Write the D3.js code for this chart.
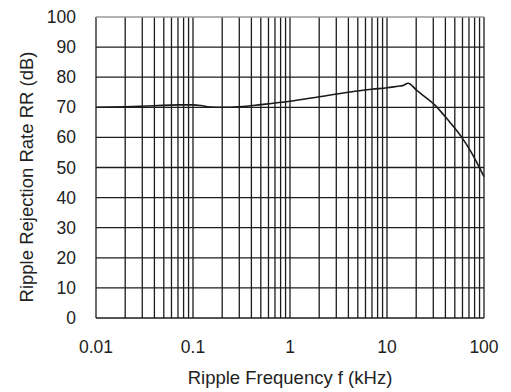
<!DOCTYPE html>
<html>
<head>
<meta charset="utf-8">
<script src="https://cdn.jsdelivr.net/npm/d3@7"></script>
<style>
  html, body { margin: 0; padding: 0; background: #fff; }
  svg { display: block; font-family: "Liberation Sans", Arial, sans-serif; }
</style>
</head>
<body>
<script>
// curve
const freqKHz = [0.01, 0.02, 0.04, 0.07, 0.1, 0.12, 0.15, 0.2, 0.3, 0.5, 1, 2, 4, 7, 10, 13, 14.5, 16.5, 20, 22, 31, 44, 59, 72, 100];
const rrDb    = [70, 70.2, 70.5, 70.8, 70.8, 70.6, 70.1, 70, 70.2, 70.9, 72, 73.5, 75, 76, 76.5, 77, 77.2, 78, 75.8, 74.7, 70.8, 65.2, 60, 55.7, 47];

const xTicks = [0.01, 0.1, 1, 10, 100];
const xTickLabels = ["0.01", "0.1", "1", "10", "100"];
const yTicks = [0, 10, 20, 30, 40, 50, 60, 70, 80, 90, 100];

const width = 511, height = 392;
const margin = { top: 17, right: 27, bottom: 74, left: 96 };

const x = d3.scaleLog().domain([0.01, 100]).range([margin.left, width - margin.right]);
const y = d3.scaleLinear().domain([0, 100]).range([height - margin.bottom, margin.top]);

const svg = d3.select("body").append("svg")
    .attr("width", width)
    .attr("height", height);

// log grid: 1..9 in every decade
const minor = [];
for (let d = 0.01; d < 100; d *= 10) {
    for (let k = 1; k <= 9; k++) minor.push(+(d * k).toPrecision(3));
}
minor.push(100);

const grid = svg.append("g")
    .attr("stroke", "#1c1c1c")
    .attr("stroke-width", 1.3);

grid.selectAll("line.v")
    .data(minor)
    .join("line")
    .attr("class", "v")
    .attr("x1", d => x(d)).attr("x2", d => x(d))
    .attr("y1", y(100)).attr("y2", y(0));

grid.selectAll("line.h")
    .data(yTicks)
    .join("line")
    .attr("class", "h")
    .attr("x1", x(0.01)).attr("x2", x(100))
    .attr("y1", d => y(d)).attr("y2", d => y(d))
    .attr("stroke", d => d === 100 ? "#999" : null);

// curve
const line = d3.line()
    .x((d, i) => x(freqKHz[i]))
    .y(d => y(d))
    .curve(d3.curveMonotoneX);

svg.append("path")
    .datum(rrDb)
    .attr("fill", "none")
    .attr("stroke", "#1a1a1a")
    .attr("stroke-width", 1.6)
    .attr("d", line);

// axes (labels only)
svg.append("g")
    .attr("font-size", 17.5)
    .attr("fill", "#222")
    .attr("text-anchor", "end")
    .selectAll("text")
    .data(yTicks)
    .join("text")
    .attr("x", 76)
    .attr("y", d => y(d) + 6)
    .text(d => d);

svg.append("g")
    .attr("font-size", 17.5)
    .attr("fill", "#222")
    .attr("text-anchor", "middle")
    .selectAll("text")
    .data(xTicks)
    .join("text")
    .attr("x", d => x(d))
    .attr("y", 353)
    .text((d, i) => xTickLabels[i]);

svg.append("text")
    .attr("x", (x(0.01) + x(100)) / 2)
    .attr("y", 384)
    .attr("text-anchor", "middle")
    .attr("font-size", 18.5)
    .attr("fill", "#222")
    .text("Ripple Frequency f (kHz)");

svg.append("text")
    .attr("transform", "translate(33,177) rotate(-90)")
    .attr("text-anchor", "middle")
    .attr("font-size", 18.5)
    .attr("fill", "#222")
    .text("Ripple Rejection Rate RR (dB)");
</script>
</body>
</html>
